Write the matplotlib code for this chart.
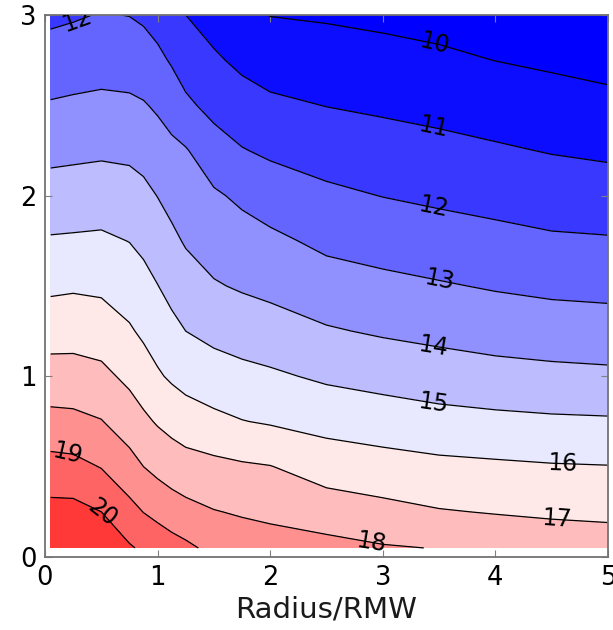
import numpy as np
import matplotlib
matplotlib.use("Agg")
import matplotlib.pyplot as plt
from matplotlib.colors import Normalize

# Grid coordinates (Radius/RMW, height)
radius = [0.05, 0.25, 0.5, 0.75, 0.875, 1.0, 1.125, 1.25, 1.5, 1.75, 2.0, 2.5, 3.0, 3.5, 4.0, 4.5, 5.0]
height = [0.05, 0.25, 0.5, 0.75, 1.0, 1.25, 1.5, 1.75, 2.0, 2.25, 2.5, 2.75, 3.0]

# Field values, one list per radius column (bottom -> top)
col_r005 = [20.9, 20.3, 19.36, 18.29, 17.4, 16.59, 15.82, 15.09, 14.41, 13.74, 13.08, 12.44, 11.8]
col_r025 = [20.85, 20.3, 19.29, 18.24, 17.39, 16.62, 15.88, 15.12, 14.45, 13.79, 13.15, 12.52, 11.9]
col_r050 = [20.7, 20.0, 18.96, 18.04, 17.25, 16.51, 15.82, 15.16, 14.5, 13.85, 13.22, 12.6, 12.05]
col_r075 = [20.1, 19.31, 18.35, 17.52, 16.78, 16.11, 15.53, 14.98, 14.4, 13.8, 13.16, 12.58, 11.98]
col_r0875 = [19.85, 18.98, 18.0, 17.19, 16.47, 15.83, 15.31, 14.78, 14.24, 13.67, 13.07, 12.45, 11.85]
col_r100 = [19.6, 18.74, 17.73, 16.91, 16.12, 15.55, 15.02, 14.5, 13.98, 13.43, 12.87, 12.23, 11.6]
col_r1125 = [19.4, 18.48, 17.53, 16.69, 15.86, 15.26, 14.71, 14.2, 13.71, 13.22, 12.59, 11.9, 11.3]
col_r125 = [19.2, 18.29, 17.39, 16.48, 15.66, 15.0, 14.44, 13.91, 13.47, 13.07, 12.18, 11.56, 11.0]
col_r150 = [18.75, 18.04, 17.25, 16.23, 15.43, 14.74, 14.08, 13.59, 13.13, 12.42, 11.72, 11.14, 10.6]
col_r175 = [18.5, 17.91, 17.12, 16.03, 15.27, 14.56, 13.9, 13.39, 12.82, 12.05, 11.41, 10.79, 10.2]
col_r200 = [18.4, 17.8, 17.03, 15.91, 15.15, 14.41, 13.76, 13.2, 12.54, 11.84, 11.18, 10.57, 9.98]
col_r250 = [18.3, 17.5, 16.56, 15.67, 14.85, 14.09, 13.42, 12.79, 12.19, 11.59, 10.98, 10.43, 9.9]
col_r300 = [18.08, 17.28, 16.38, 15.5, 14.66, 13.89, 13.24, 12.6, 11.98, 11.41, 10.85, 10.3, 9.8]
col_r350 = [17.97, 17.06, 16.23, 15.33, 14.48, 13.74, 13.08, 12.44, 11.82, 11.27, 10.71, 10.16, 9.7]
col_r400 = [17.7, 16.95, 16.15, 15.23, 14.34, 13.59, 12.92, 12.28, 11.68, 11.11, 10.55, 9.99, 9.6]
col_r450 = [17.55, 16.86, 16.07, 15.15, 14.25, 13.49, 12.79, 12.13, 11.53, 10.95, 10.39, 9.85, 9.5]
col_r500 = [17.45, 16.81, 16.03, 15.11, 14.19, 13.43, 12.73, 12.08, 11.44, 10.84, 10.25, 9.7, 9.4]

fill_levels = [9, 10, 11, 12, 13, 14, 15, 16, 17, 18, 19, 20, 21]
line_levels = [10, 11, 12, 13, 14, 15, 16, 17, 18, 19, 20]
x_ticks = [0, 1, 2, 3, 4, 5]
y_ticks = [0, 1, 2, 3]

columns = [col_r005, col_r025, col_r050, col_r075, col_r0875, col_r100, col_r1125,
           col_r125, col_r150, col_r175, col_r200, col_r250, col_r300, col_r350,
           col_r400, col_r450, col_r500]
Z = np.array(columns).T
X, Y = np.meshgrid(radius, height)

fig = plt.figure(figsize=(6.13, 6.30), dpi=100)
ax = fig.add_axes([0.0734, 0.1159, 0.9184, 0.8603])

ax.contourf(X, Y, Z, levels=fill_levels, cmap='bwr', norm=Normalize(10.2, 21.8))
cs = ax.contour(X, Y, Z, levels=line_levels, colors='k', linewidths=0.9)

label_pos = [(3.45, 2.81), (3.45, 2.37), (3.45, 1.93), (3.5, 1.52), (3.45, 1.16),
             (3.45, 0.86), (4.6, 0.52), (4.55, 0.21), (2.9, 0.08), (0.2, 0.56),
             (0.5, 0.24), (0.3, 2.95)]
ax.clabel(cs, fmt='%d', fontsize=17, inline=False, manual=label_pos, colors='k')

ax.set_xlim(0, 5)
ax.set_ylim(0, 3)
ax.set_xticks(x_ticks)
ax.set_yticks(y_ticks)
ax.tick_params(direction='in', top=True, right=True, length=5, color='0.5',
               labelsize=18.5, pad=6)
for s in ax.spines.values():
    s.set_color('0.45')
    s.set_linewidth(1.3)
ax.set_xlabel('Radius/RMW', fontsize=21, labelpad=3, color='0.1')

fig.savefig('out.png', dpi=100)
